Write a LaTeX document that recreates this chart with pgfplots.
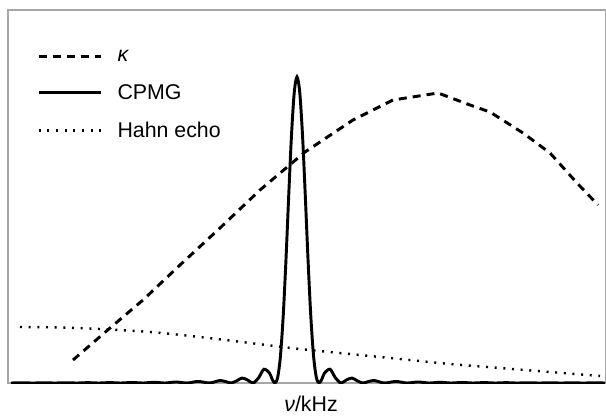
\documentclass[border=0pt]{standalone}
\usepackage{fontspec}
\setmainfont{Liberation Sans}
\usepackage{pgfplots}
\pgfplotsset{compat=1.18}
\newcommand{\chartfont}{\fontsize{16}{19}\selectfont}
\begin{document}
\begin{tikzpicture}
\begin{axis}[
  scale only axis, width=448.5pt, height=279.75pt,
  xmin=8, xmax=606, ymin=0, ymax=373,
  axis line style={gray!70, line width=0.9pt},
  xtick=\empty, ytick=\empty,
  xlabel={{\itshape ν}/kHz},
  xlabel style={at={(axis description cs:0.5,0)}, anchor=base, yshift=-21.5pt, xshift=3pt, font=\chartfont},
  legend style={at={(axis description cs:0.0485,0.893)}, anchor=north west, draw=none, fill=none,
    inner sep=0pt, row sep=15.5pt, column sep=11pt, nodes={inner sep=0pt}, font=\chartfont},
  legend cell align=left,
  legend image code/.code={\draw[#1] (0pt,0pt) -- (47pt,0pt);},
]
% kappa
\addplot[black, line width=2.2pt, dash pattern=on 6pt off 4.5pt] coordinates {
(73,23) (110,55) (143,83) (180,118) (220,155) (260,193) (305,231) (353,263)
(393,283) (438,290) (470,278) (490,271) (523,250) (550,230) (577,200) (598,178)};
\addlegendentry{{\itshape κ}\rule[-16pt]{0pt}{0pt}}
% CPMG
\addplot[black, line width=2.2pt, smooth] coordinates {
(11,0) (22,0.20) (33,0) (44,0.24) (55,0) (66,0.28) (77,0) (88,0.34) (99,0)
(110,0.43) (121,0) (132,0.55) (143,0) (154,0.73) (165,0) (176,1.03) (187,0)
(198,1.53) (209,0) (214.5,1.10) (220,2.53) (225.5,1.47) (231,0) (236.5,2.05)
(242,4.96) (247.5,3.06) (253,0) (258.5,5.06) (264,13.78) (269.5,9.92) (272.25,3.59)
(275,0) (277.75,5.93) (280.5,27.56) (283.25,67.75) (286,124.02) (288.75,188.18)
(291.5,248.03) (294.25,290.59) (297,306)
(299.75,290.59) (302.5,248.03) (305.25,188.18) (308,124.02) (310.75,67.75)
(313.5,27.56) (316.25,5.93) (319,0) (321.75,3.59) (324.5,9.92) (330,13.78)
(335.5,5.06) (341,0) (346.5,3.06) (352,4.96) (357.5,2.05) (363,0) (368.5,1.47)
(374,2.53) (379.5,1.10) (385,0) (396,1.53) (407,0) (418,1.03) (429,0) (440,0.73)
(451,0) (462,0.55) (473,0) (484,0.43) (495,0) (506,0.34) (517,0) (528,0.28)
(539,0) (550,0.24) (561,0) (572,0.20) (583,0) (594,0.17) (605,0)};
\addlegendentry{CPMG}
% Hahn echo
\addplot[black, line width=1.8pt, smooth, dash pattern=on 1.5pt off 5pt] coordinates {
(20,56) (60,55.5) (100,54) (150,51) (200,46) (250,40) (300,34) (350,29)
(400,24) (450,19) (500,15) (550,11) (600,7)};
\addlegendentry{Hahn echo}
\end{axis}
\pgfresetboundingbox
\path ([shift={(-6pt,-24pt)}]current axis.south west) rectangle ([shift={(0pt,7.5pt)}]current axis.north east);
\end{tikzpicture}
\end{document}
